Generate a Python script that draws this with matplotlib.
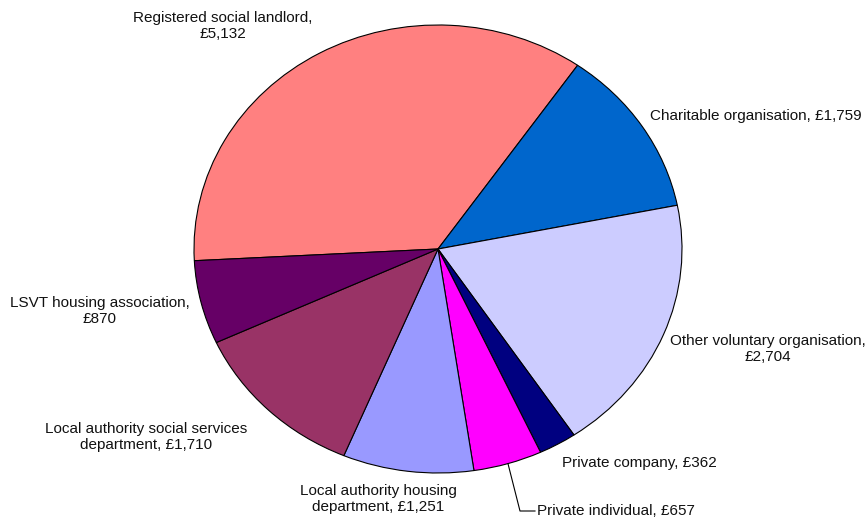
import numpy as np
import matplotlib
matplotlib.use('Agg')
import matplotlib.pyplot as plt

plt.rcParams['font.family'] = ['Liberation Sans', 'DejaVu Sans']

# spend by type of provider
providers = ['Registered social landlord', 'Charitable organisation',
             'Other voluntary organisation', 'Private company',
             'Private individual', 'Local authority housing department',
             'Local authority social services department',
             'LSVT housing association']
spend = [5132, 1759, 2704, 362, 657, 1251, 1710, 870]
colours = ['#FF8080', '#0066CC', '#CCCCFF', '#000080',
           '#FF00FF', '#9999FF', '#993366', '#660066']

W, H = 867, 520
cx, cy = 438, 249      # pie centre in pixels (from top-left)
rx, ry = 244, 224      # pie stretched a little wider than tall

fig = plt.figure(figsize=(W / 100, H / 100), dpi=100)
ax = fig.add_axes([0, 0, 1, 1])

wedges, _ = ax.pie(spend, colors=colours, startangle=183, counterclock=False,
                   radius=1, wedgeprops=dict(edgecolor='black', linewidth=0.8))
ax.set_aspect('auto')
ax.set_xlim(-cx / rx, (W - cx) / rx)
ax.set_ylim(-(H - cy) / ry, cy / ry)
ax.axis('off')


def px(x, y):
    # pixel position (top-left origin) to data coordinates
    return (x - cx) / rx, (cy - y) / ry


def fmt(v):
    return '£{:,}'.format(v)


labels = [
    (providers[0] + ',\n' + fmt(spend[0]), 223, 26, 'center'),
    (providers[1] + ', ' + fmt(spend[1]), 650, 116, 'left'),
    (providers[2] + ',\n' + fmt(spend[2]), 768, 349, 'center'),
    (providers[3] + ', ' + fmt(spend[3]), 562, 463, 'left'),
    (providers[4] + ', ' + fmt(spend[4]), 537, 511, 'left'),
    ('Local authority housing\ndepartment, ' + fmt(spend[5]), 378, 499, 'center'),
    ('Local authority social services\ndepartment, ' + fmt(spend[6]), 146, 437, 'center'),
    (providers[7] + ',\n' + fmt(spend[7]), 100, 311, 'center'),
]
for text, x, y, ha in labels:
    ax.text(*px(x, y), text, ha=ha, va='center', fontsize=11,
            color='#111111', linespacing=1.2, multialignment='center')

# leader line for the private individual slice
w = wedges[4]
mid = np.deg2rad((w.theta1 + w.theta2) / 2)
x1, y1 = px(520, 511)
x2, y2 = px(535, 511)
ax.plot([np.cos(mid), x1, x2], [np.sin(mid), y1, y2], color='black', lw=0.8)

fig.savefig('out.png', dpi=100)
